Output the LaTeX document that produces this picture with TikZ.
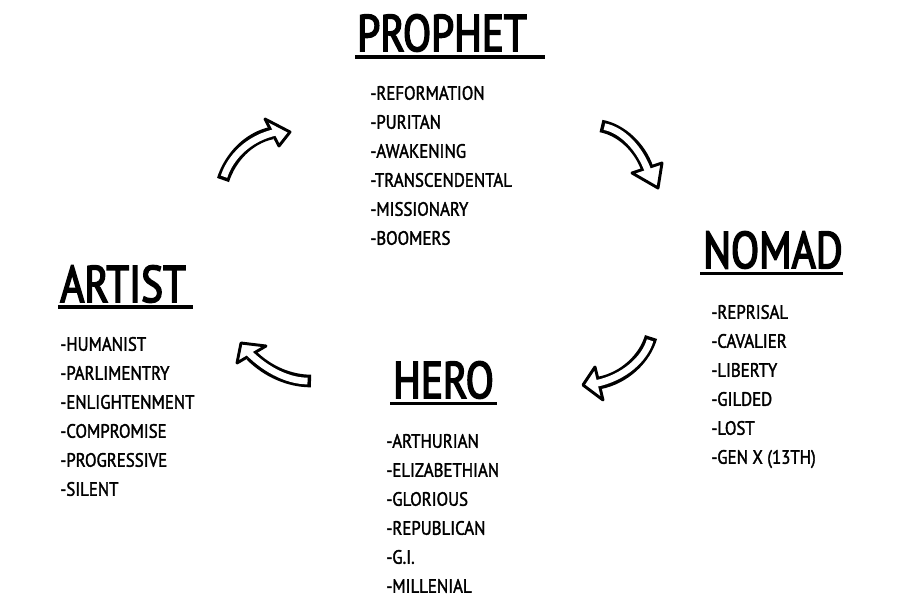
\documentclass[tikz,border=0pt]{standalone}
\usepackage{fontspec}
\setmainfont{PT Sans}
\newfontfamily\ttlfont{PT Sans}[FakeStretch=0.8, RawFeature={embolden=3}]
\newfontfamily\itmfont{PT Sans}[FakeStretch=0.87, RawFeature={embolden=1.8}]
\begin{document}
\begin{tikzpicture}[x=0.75pt,y=-0.75pt]
\useasboundingbox (0,0) rectangle (900,600);
\tikzset{
 ttl/.style={anchor=base west, inner sep=0pt, font=\ttlfont\fontsize{38.6}{40}\selectfont},
 itm/.style={anchor=base west, inner sep=0pt, font=\itmfont\fontsize{14.5}{16}\selectfont},
 uline/.style={line width=2.7pt},
 shaftout/.style={line width=9.5pt, black},
 shaftin/.style={line width=5pt, white},
 headst/.style={fill=white, draw=black, line width=2.2pt, line join=round},
}
% titles
\node[ttl] (prophet) at (357,51) {PROPHET};
\draw[uline] (355,57) -- (545,57);
\node[ttl] (nomad) at (703,268) {NOMAD};
\draw[uline] (700,273.5) -- (843,273.5);
\node[ttl] (artist) at (60,302) {ARTIST};
\draw[uline] (58,307) -- (193,307);
\node[ttl] (hero) at (393,398) {HERO};
\draw[uline] (390,403.5) -- (497,403.5);
% lists
\foreach \t [count=\i] in {-REFORMATION,-PURITAN,-AWAKENING,-TRANSCENDENTAL,-MISSIONARY,-BOOMERS}
  \node[itm] (p\i) at (370,{99.75+29*(\i-1)}) {\t};
\foreach \t [count=\i] in {-REPRISAL,-CAVALIER,-LIBERTY,-GILDED,-LOST,-GEN X (13TH)}
  \node[itm] (n\i) at (711,{318.75+29*(\i-1)}) {\t};
\foreach \t [count=\i] in {-HUMANIST,-PARLIMENTRY,-ENLIGHTENMENT,-COMPROMISE,-PROGRESSIVE,-SILENT}
  \node[itm] (a\i) at (60,{350.75+29*(\i-1)}) {\t};
\foreach \t [count=\i] in {-ARTHURIAN,-ELIZABETHIAN,-GLORIOUS,-REPUBLICAN,-G.I.,-MILLENIAL}
  \node[itm] (h\i) at (386,{447.75+29*(\i-1)}) {\t};
% arrows
\newcommand\outarrow[7]{%
  \draw[shaftout] #1 .. controls #2 and #3 .. #4;
  \draw[headst] #5 -- #6 -- #7 -- cycle;
  \draw[shaftin, shorten <=2.6pt, shorten >=-3.5pt] #1 .. controls #2 and #3 .. #4;
}
% artist -> prophet
\outarrow{(223,180)}{(230,158)}{(248,138)}{(272,133)}{(290,132)}{(265,119)}{(279,146)}
% prophet -> nomad
\outarrow{(601,126)}{(622,130)}{(640,148)}{(647,168)}{(658,188)}{(632,173)}{(662,163)}
% nomad -> hero
\outarrow{(651,337)}{(645,358)}{(625,378)}{(599,383)}{(583,385)}{(595,367)}{(603,400)}
% hero -> artist
\outarrow{(311,381)}{(290,381)}{(268,372)}{(251,355)}{(241,343)}{(266,346)}{(237,363)}
\end{tikzpicture}
\end{document}
